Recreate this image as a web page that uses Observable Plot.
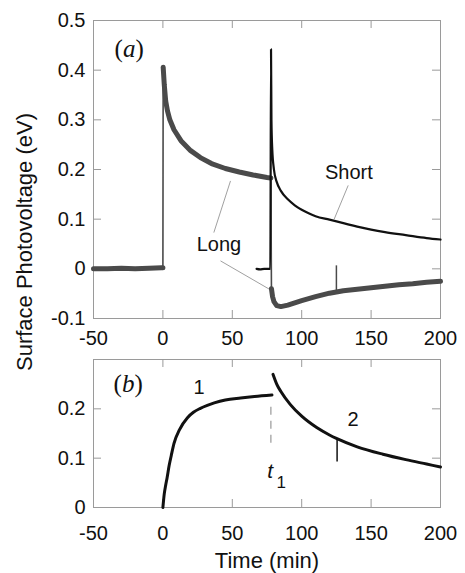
<!DOCTYPE html>
<html><head><meta charset="utf-8">
<script src="https://cdn.jsdelivr.net/npm/d3@7"></script>
<script src="https://cdn.jsdelivr.net/npm/@observablehq/plot@0.6"></script>
<style>
body{margin:0;background:#fff}
#wrap{position:relative;width:465px;height:573px;font-family:"Liberation Sans",Arial,sans-serif;background:#fff}
#pa,#pb{position:absolute;left:0}
#pa{top:0}
#pb{top:350px}
#ylab{position:absolute;left:25px;top:242px;transform:translate(-50%,-50%) rotate(-90deg);font-size:22px;white-space:nowrap;color:#111}
</style></head><body>
<div id="wrap"><div id="pa"></div><div id="pb"></div><div id="ylab">Surface Photovoltage (eV)</div></div>
<script>
// ---- tick values ----
const xTicks = [-50, 0, 50, 100, 150, 200];
const yTicksA = [-0.1, 0, 0.1, 0.2, 0.3, 0.4, 0.5];
const yTicksB = [0, 0.1, 0.2];

// ---- panel (a): "Long" series (gray) ----
const longX = [-50,-40,-30,-20,-10,-1,0, 0.2,1,2,3.3,5,8,13,20,27,35,45,55,65,75,77.8, 78.2,79,80,82,85,90,100,110,120,130,140,150,160,170,180,190,200];
const longY = [0.0,0.0,0.001,0.0,0.001,0.002,0.002, 0.406,0.37,0.338,0.318,0.30,0.28,0.258,0.238,0.224,0.212,0.202,0.195,0.189,0.184,0.183, -0.04,-0.056,-0.066,-0.074,-0.076,-0.073,-0.064,-0.056,-0.049,-0.044,-0.041,-0.038,-0.035,-0.032,-0.03,-0.027,-0.025];
// ---- panel (a): "Short" series (black) ----
const shortX = [67.5,70,73,76,77.4, 77.9,78.2,78.8,80,82,85,90,95,100,105,110,120,130,140,150,160,175,190,200];
const shortY = [0.0,-0.001,0.0,0.0,0.0, 0.442,0.30,0.24,0.20,0.175,0.157,0.14,0.128,0.119,0.112,0.106,0.099,0.092,0.085,0.079,0.074,0.068,0.062,0.059];
// spike in Long series
const spikeAX = [125], spikeAY1 = [-0.045], spikeAY2 = [0.006];

// ---- panel (b): curves 1 and 2 ----
const c1X = [0,1,2,3,4.5,6,8,12,17.7,22,27,32,37,45,56,66,78.6];
const c1Y = [0,0.028,0.045,0.06,0.085,0.105,0.13,0.158,0.182,0.193,0.201,0.207,0.212,0.218,0.222,0.225,0.228];
const c2X = [79.3,82,85,91.7,100,110.8,120,125,140,158.5,175,190,200];
const c2Y = [0.27,0.25,0.235,0.209,0.185,0.162,0.147,0.14,0.123,0.108,0.097,0.088,0.082];
const spikeBX = [125.5], spikeBY1 = [0.14], spikeBY2 = [0.092];
const t1X = [77.8], t1Y1 = [0.13], t1Y2 = [0.21];

// ---- annotations ----
const labelsA = [{t:"Short", x:134, y:0.193}, {t:"Long", x:40.4, y:0.049}];
const leadersA = [{x1:133.5,y1:0.168,x2:123.4,y2:0.100},{x1:36.7,y1:0.073,x2:48.7,y2:0.177},{x1:41.5,y1:0.016,x2:77.3,y2:-0.042}];
const labelsB = [{t:"1", x:26, y:0.243}, {t:"2", x:137, y:0.179}];

const fmtY = d => d === 0 ? "0" : d.toFixed(1);
const frameColor = "#9a9a9a";
const tickLen = 8;
const serif = '"Liberation Serif", "Times New Roman", serif';

const longData = longX.map((x, i) => ({x, y: longY[i], seg: x <= 0 ? 0 : x <= 77.9 ? 1 : 2}));
const shortData = shortX.map((x, i) => ({x, y: shortY[i]}));
const c1 = c1X.map((x, i) => ({x, y: c1Y[i]}));
const c2 = c2X.map((x, i) => ({x, y: c2Y[i]}));

function inwardTicks(W, H, mL, mR, mT, mB, yt) {
  const iw = W - mL - mR, ih = H - mT - mB;
  return [
    Plot.tickX(xTicks, {x: d => d, insetTop: ih - tickLen, stroke: frameColor}),
    Plot.tickX(xTicks, {x: d => d, insetBottom: ih - tickLen, stroke: frameColor}),
    Plot.tickY(yt, {y: d => d, insetRight: iw - tickLen, stroke: frameColor}),
    Plot.tickY(yt, {y: d => d, insetLeft: iw - tickLen, stroke: frameColor})
  ];
}

const style = {fontFamily: '"Liberation Sans", Arial, sans-serif', fontSize: "20px", background: "transparent", overflow: "visible", color: "#111"};

// Panel (a)
const WA = 465, HA = 350, mLA = 93, mRA = 25, mTA = 20, mBA = 32;
const pa = Plot.plot({
  width: WA, height: HA, marginLeft: mLA, marginRight: mRA, marginTop: mTA, marginBottom: mBA,
  style,
  x: {domain: [-50, 200], label: null},
  y: {domain: [-0.1, 0.5], label: null},
  marks: [
    Plot.frame({stroke: frameColor}),
    ...inwardTicks(WA, HA, mLA, mRA, mTA, mBA, yTicksA),
    Plot.axisX({ticks: xTicks, tickSize: 0, tickPadding: 12, tickFormat: d => String(d), fontSize: 20, fill: "#111", label: null}),
    Plot.axisY({ticks: yTicksA, tickSize: 0, tickPadding: 8, tickFormat: fmtY, fontSize: 20, fill: "#111", label: null}),
    Plot.link(leadersA, {x1: "x1", y1: "y1", x2: "x2", y2: "y2", stroke: "#888", strokeWidth: 0.8}),
    Plot.line(longData, {x: "x", y: "y", stroke: "#4a4a4a", strokeWidth: 1.6}),
    Plot.line(longData, {x: "x", y: "y", z: "seg", stroke: "#4a4a4a", strokeWidth: 5}),
    Plot.ruleX(spikeAX, {x: d => d, y1: (d, i) => spikeAY1[i], y2: (d, i) => spikeAY2[i], stroke: "#4a4a4a", strokeWidth: 1.5}),
    Plot.line(shortData, {x: "x", y: "y", stroke: "#111", strokeWidth: 2.2, curve: "monotone-x"}),
    Plot.text(labelsA, {x: "x", y: "y", text: "t", fontSize: 20, fill: "#111"}),
    Plot.text(["(a)"], {x: -24.3, y: 0.443, fontSize: 25, fontFamily: serif, fill: "#111", className: "plabel"})
  ]
});
document.getElementById("pa").appendChild(pa);

// Panel (b)
const WB = 465, HB = 223, mLB = 93, mRB = 25, mTB = 9, mBB = 66;
const pb = Plot.plot({
  width: WB, height: HB, marginLeft: mLB, marginRight: mRB, marginTop: mTB, marginBottom: mBB,
  style,
  x: {domain: [-50, 200], label: null},
  y: {domain: [0, 0.3], label: null},
  marks: [
    Plot.frame({stroke: frameColor}),
    ...inwardTicks(WB, HB, mLB, mRB, mTB, mBB, yTicksB),
    Plot.axisX({ticks: xTicks, tickSize: 0, tickPadding: 18, tickFormat: d => String(d), fontSize: 20, fill: "#111", label: null}),
    Plot.axisY({ticks: yTicksB, tickSize: 0, tickPadding: 8, tickFormat: fmtY, fontSize: 20, fill: "#111", label: null}),
    Plot.ruleX(t1X, {x: d => d, y1: (d, i) => t1Y1[i], y2: (d, i) => t1Y2[i], stroke: "#999", strokeWidth: 1.2, strokeDasharray: "8,6"}),
    Plot.line(c1, {x: "x", y: "y", stroke: "#111", strokeWidth: 3, curve: "monotone-x"}),
    Plot.line(c2, {x: "x", y: "y", stroke: "#111", strokeWidth: 3, curve: "monotone-x"}),
    Plot.ruleX(spikeBX, {x: d => d, y1: (d, i) => spikeBY1[i], y2: (d, i) => spikeBY2[i], stroke: "#111", strokeWidth: 1.5}),
    Plot.text(labelsB, {x: "x", y: "y", text: "t", fontSize: 20, fill: "#111"}),
    Plot.text(["t"], {x: 77.3, y: 0.073, fontSize: 21, fontStyle: "italic", fill: "#111"}),
    Plot.text(["1"], {x: 81.8, y: 0.05, textAnchor: "start", fontSize: 17, fill: "#111"}),
    Plot.text(["(b)"], {x: -25, y: 0.25, fontSize: 25, fontFamily: serif, fill: "#111", className: "plabel"}),
    Plot.text(["Time (min)"], {frameAnchor: "bottom", dy: 45, lineAnchor: "top", fontSize: 22, fill: "#111"})
  ]
});
document.getElementById("pb").appendChild(pb);

// upright parentheses, italic letter in panel labels
document.querySelectorAll("g.plabel text").forEach(t => {
  const s = t.textContent;
  if (s.length === 3) {
    t.textContent = "";
    const ns = "http://www.w3.org/2000/svg";
    const a = document.createElementNS(ns, "tspan"); a.textContent = s[0];
    const b = document.createElementNS(ns, "tspan"); b.textContent = s[1]; b.setAttribute("font-style", "italic");
    const c = document.createElementNS(ns, "tspan"); c.textContent = s[2];
    t.append(a, b, c);
  }
});
</script>
</body></html>
